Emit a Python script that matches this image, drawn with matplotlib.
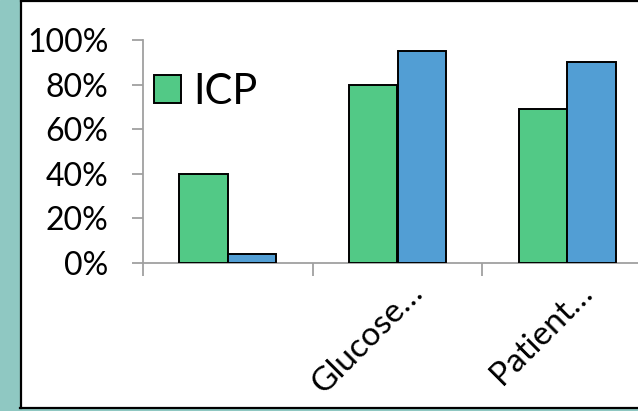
import matplotlib
matplotlib.use('Agg')
import matplotlib.pyplot as plt
from matplotlib.patches import Rectangle
from matplotlib.lines import Line2D
from matplotlib.transforms import ScaledTranslation
import numpy as np

categories = ["", "Glucose\u2026", "Patient\u2026"]
icp = [40, 80, 69]
other = [4, 95, 90]

green = "#52C986"
blue = "#529ED4"
teal = "#8FC8C2"
axcol = "#A0A0A0"

plt.rcParams['font.family'] = ['Lato', 'DejaVu Sans']

W, H = 638, 411
fig = plt.figure(figsize=(W / 100, H / 100), dpi=100)

# background frame
fig.patches.append(Rectangle((0, 0), 20 / W, 1, transform=fig.transFigure, color=teal, zorder=0))
fig.patches.append(Rectangle((0, 0), 1, 2 / H, transform=fig.transFigure, color=teal, zorder=0))
fig.lines.append(Line2D([21 / W, 21 / W], [3 / H, 1], transform=fig.transFigure, color='black', lw=1.6))
fig.lines.append(Line2D([21 / W, 1], [1 - 1 / H, 1 - 1 / H], transform=fig.transFigure, color='black', lw=1.6))
fig.lines.append(Line2D([20 / W, 1], [3 / H, 3 / H], transform=fig.transFigure, color='black', lw=1.6))

x0, x1 = 143, 652
y0, y1 = 263, 40
ax = fig.add_axes([x0 / W, (H - y0) / H, (x1 - x0) / W, (y0 - y1) / H])
ax.set_facecolor('none')

x = np.arange(len(categories))
bw = 0.285
b1 = ax.bar(x - bw / 2, icp, bw, color=green, edgecolor='black', linewidth=1.4, zorder=3)
b2 = ax.bar(x + bw / 2, other, bw, color=blue, edgecolor='black', linewidth=1.4, zorder=3)

ax.set_xlim(-0.5, 2.5)
ax.set_ylim(0, 100)
ax.set_yticks([0, 20, 40, 60, 80, 100])
ax.set_yticklabels(["0%", "20%", "40%", "60%", "80%", "100%"])

for s in ['top', 'right']:
    ax.spines[s].set_visible(False)
ax.spines['left'].set_color(axcol)
ax.spines['bottom'].set_color(axcol)
ax.spines['left'].set_linewidth(1.3)
ax.spines['bottom'].set_linewidth(1.3)

ax.tick_params(axis='y', length=8, width=1.3, color=axcol, pad=17, labelsize=23)
ax.set_xticks(np.array([-0.5, 0.5, 1.5, 2.5]))
ax.set_xticklabels([])
ax.tick_params(axis='x', which='major', length=9, width=1.3, color=axcol)
ax.set_xticks(x, minor=True)
ax.set_xticklabels(categories, minor=True, rotation=45, ha='right', rotation_mode='anchor')
ax.tick_params(axis='x', which='minor', length=0, pad=10, labelsize=24)
for lab in ax.get_xticklabels(minor=True):
    lab.set_transform(lab.get_transform() + ScaledTranslation(0.1, 0, fig.dpi_scale_trans))

ax.legend([b1], ["ICP"], loc='center left', bbox_to_anchor=(154 / W, (H - 92) / H),
          bbox_transform=fig.transFigure, frameon=False, fontsize=30,
          handlelength=0.65, handleheight=0.65, handletextpad=0.3,
          borderpad=0, borderaxespad=0)

plt.savefig("out.png", dpi=100)
